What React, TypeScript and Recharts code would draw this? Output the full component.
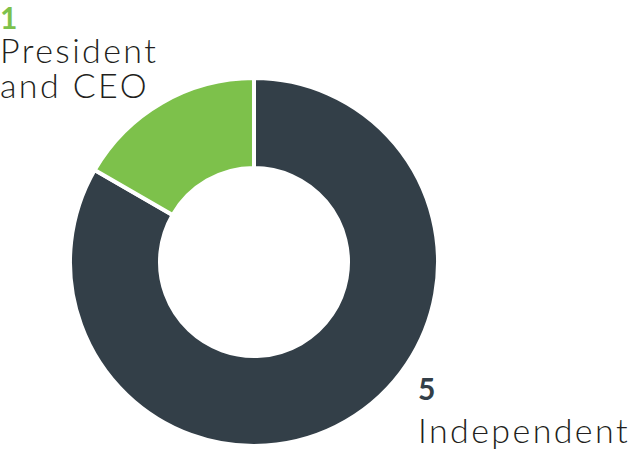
import { PieChart, Pie, Cell } from 'recharts'

const categories = ['Independent', 'President and CEO']
const counts = [5, 1]
const labelLines = [['Independent'], ['President', 'and CEO']]
const COLORS = ['#333f48', '#7dc14b']

const data = categories.map((name, i) => ({ name, value: counts[i] }))

const FONT = 'Lato, "Open Sans", sans-serif'

function Label({ index, gap, style }: { index: number; gap: number; style: React.CSSProperties }) {
  return (
    <div style={{ position: 'absolute', fontFamily: FONT, color: '#231f20', whiteSpace: 'nowrap', ...style }}>
      <div style={{ fontWeight: 700, fontSize: 30, lineHeight: '30px', color: COLORS[index], marginBottom: gap }}>
        {counts[index]}
      </div>
      {labelLines[index].map((line) => (
        <div key={line} style={{ fontWeight: 300, fontSize: 34, lineHeight: '35px', letterSpacing: 2.4 }}>{line}</div>
      ))}
    </div>
  )
}

export default function App() {
  return (
    <div style={{ position: 'absolute', left: 0, top: 0, width: 630, height: 450, background: '#fff', overflow: 'hidden' }}>
      <PieChart width={630} height={450} margin={{ top: 0, right: 0, bottom: 0, left: 0 }}>
        <Pie
          data={data}
          dataKey="value"
          cx={254}
          cy={262}
          innerRadius={94}
          outerRadius={184}
          startAngle={90}
          endAngle={-270}
          stroke="#ffffff"
          strokeWidth={4}
          isAnimationActive={false}
        >
          {data.map((_, i) => <Cell key={i} fill={COLORS[i]} />)}
        </Pie>
      </PieChart>
      <Label index={1} gap={0} style={{ left: 0, top: 2 }} />
      <Label index={0} gap={9} style={{ left: 418, top: 373 }} />
    </div>
  )
}
